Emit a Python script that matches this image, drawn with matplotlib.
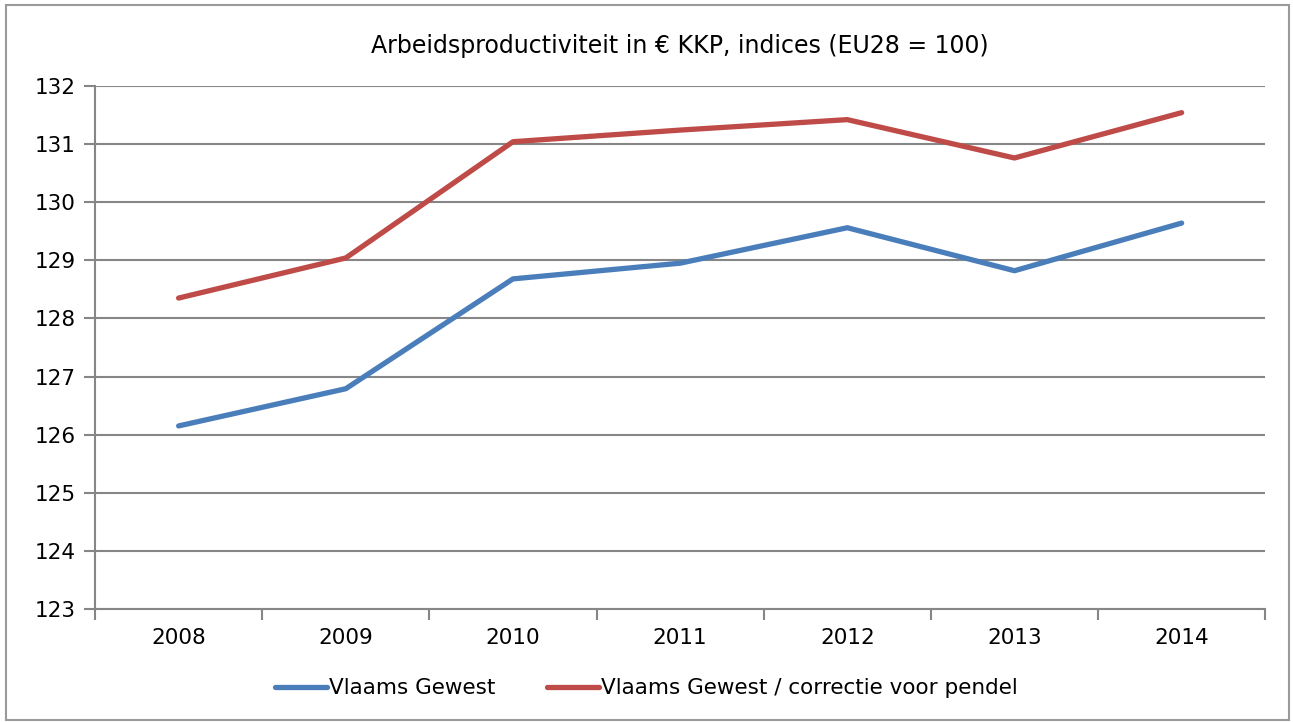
import numpy as np
import matplotlib.pyplot as plt
from matplotlib.patches import Rectangle

years = ['2008', '2009', '2010', '2011', '2012', '2013', '2014']
vlaams = [126.15, 126.79, 128.68, 128.95, 129.56, 128.82, 129.64]
pendel = [128.35, 129.04, 131.04, 131.24, 131.42, 130.76, 131.54]

plt.rcParams['font.family'] = ['DejaVu Sans']

fig = plt.figure(figsize=(12.93, 7.22), dpi=100)
ax = fig.add_axes([0.0735, 0.1565, 0.905, 0.7245])

x = np.arange(len(years))
ax.plot(x, vlaams, color='#4a7ebb', lw=3.8, solid_capstyle='round', label='Vlaams Gewest')
ax.plot(x, pendel, color='#be4b48', lw=3.8, solid_capstyle='round', label='Vlaams Gewest / correctie voor pendel')

ax.set_xlim(-0.5, 6.5)
ax.set_ylim(123, 132)
ax.set_yticks(range(123, 133))
ax.yaxis.grid(True, color='#868686', lw=1.5)
ax.set_axisbelow(True)
ax.set_xticks(x)
ax.set_xticklabels(years)
ax.set_xticks(np.arange(-0.5, 7, 1), minor=True)
ax.tick_params(axis='x', which='major', length=0, pad=14, labelsize=15.5)
ax.tick_params(axis='x', which='minor', length=8, color='#868686', width=1.5)
ax.tick_params(axis='y', length=8, color='#868686', width=1.5, labelsize=15.5, pad=6)
for s in ['top', 'right']:
    ax.spines[s].set_visible(False)
for s in ['left', 'bottom']:
    ax.spines[s].set_color('#868686')
    ax.spines[s].set_linewidth(1.5)

ax.set_title('Arbeidsproductiviteit in € KKP, indices (EU28 = 100)', fontsize=17, pad=24)

fig.legend(loc='center', bbox_to_anchor=(0.5, 0.047), ncol=2, frameon=False,
           fontsize=15.5, handlelength=2.4, handletextpad=0.1, columnspacing=2.4)

fig.patches.append(Rectangle((0.005, 0.003), 0.992, 0.99, transform=fig.transFigure,
                             fill=False, edgecolor='#9a9a9a', lw=1.5))

fig.savefig('out.png', dpi=100)
